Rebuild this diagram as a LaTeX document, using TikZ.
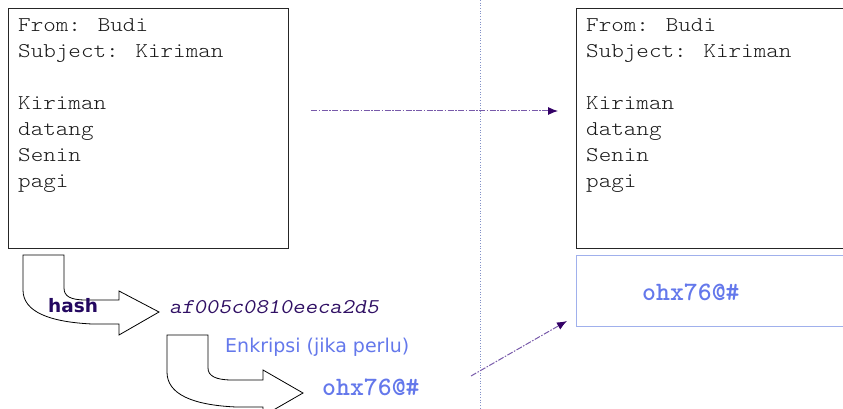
\documentclass[tikz,border=0pt]{standalone}
\usepackage{fontspec}
\setmainfont{DejaVu Sans}
\newfontfamily\letterfont{Latin Modern Mono Light}[FakeStretch=1.14]
\newfontfamily\digestfont{Latin Modern Mono}[FakeStretch=1.14, FakeSlant=0.2]
\newfontfamily\cipherfont{Latin Modern Mono Light}
\newfontfamily\labelfont{DejaVu Sans}
\usetikzlibrary{arrows.meta}

\definecolor{inkpurple}{RGB}{51,0,102}
\definecolor{hashink}{RGB}{36,8,96}
\definecolor{digestink}{RGB}{48,16,100}
\definecolor{cipherblue}{RGB}{100,120,235}
\definecolor{sepblue}{RGB}{130,145,200}
\definecolor{flowpurple}{RGB}{120,90,170}
\definecolor{sigframe}{RGB}{160,176,236}

\tikzset{
  msgbox/.style={draw=black!85, line width=0.9pt, anchor=north west, inner sep=0pt},
  sigframebox/.style={draw=sigframe, line width=1pt, anchor=north west, inner sep=0pt},
  msgtext/.style={font=\letterfont\fontsize{21}{26}\selectfont, align=left,
                  anchor=base west, inner sep=0pt, text=black!90},
  digest/.style={font=\digestfont\fontsize{21}{26}\selectfont,
                 text=digestink, anchor=base west, inner sep=0pt},
  cipher/.style={font=\cipherfont\bfseries\fontsize{26.5}{30}\selectfont,
                 text=cipherblue, anchor=base west, inner sep=0pt},
  hashlabel/.style={font=\labelfont\bfseries\fontsize{18.5}{22}\selectfont,
                    text=hashink, anchor=base west, inner sep=0pt},
  enclabel/.style={font=\labelfont\fontsize{19}{22}\selectfont,
                   text=cipherblue, anchor=base west, inner sep=0pt},
  bentarrow/.style={draw=black, line width=0.8pt, fill=white, line join=miter},
  flow/.style={draw=flowpurple, line width=1pt,
               dash pattern=on 6pt off 1.5pt on 1.5pt off 1.5pt,
               -{Latex[length=10pt,width=8pt,color=inkpurple]}},
  separator/.style={draw=sepblue, line width=0.7pt, dotted},
}

\begin{document}
\begin{tikzpicture}[x=1pt, y=-1pt]
  \useasboundingbox (0,0) rectangle (843,409);
  \clip (0,0) rectangle (843,409);

  % sender / receiver divider
  \coordinate (septop) at (480,0);
  \coordinate (sepbot) at (480,409);
  \draw[separator] (septop) -- (sepbot);

  % message as written by the sender (text anchored at the last line)
  \node[msgbox, minimum width=280pt, minimum height=240pt] (sendbox) at (8,8) {};
  \node[msgtext] (sendtext) at (18,187)
    {From: Budi\\Subject: Kiriman\\[26pt]Kiriman\\datang\\Senin\\pagi};

  % message as received
  \node[msgbox, minimum width=290pt, minimum height=240pt] (recvbox) at (576,8) {};
  \node[msgtext] (recvtext) at (586,187)
    {From: Budi\\Subject: Kiriman\\[26pt]Kiriman\\datang\\Senin\\pagi};

  % attached signature on the receiving side
  \node[sigframebox, minimum width=290pt, minimum height=71pt] (sigbox) at (576,255) {};
  \node[cipher] (sigtext) at (642,300) {ohx76@\#};

  % bent arrow: message -> hash
  \draw[bentarrow]
    (23,255) -- (64,255) -- (64,288)
    .. controls (64,296) and (70,300) .. (86,300)
    -- (119,300) -- (119,291) -- (159,312) -- (119,335) -- (119,324)
    -- (92,324)
    .. controls (50,322) and (23,312) .. (23,290) -- cycle;

  % bent arrow: hash -> encrypted hash
  \draw[bentarrow]
    (167,335) -- (208,335) -- (208,368)
    .. controls (208,376) and (216,380) .. (232,380)
    -- (263,380) -- (263,370) -- (303,393) -- (263,416) -- (263,407)
    -- (236,407)
    .. controls (192,405) and (167,394) .. (167,372) -- cycle;

  \node[hashlabel] (hashlbl) at (48,312) {hash};
  \node[digest] (digest) at (169,313) {af005c0810eeca2d5};
  \node[enclabel] (enclbl) at (225,352) {Enkripsi (jika perlu)};
  \node[cipher] (cipher) at (322,395) {ohx76@\#};

  % transfer of the message
  \coordinate (flowstart) at (311,111);
  \coordinate (flowend) at (558,111);
  \draw[flow] (flowstart) -- (flowend);

  % transfer of the signature
  \coordinate (sigstart) at (471,376);
  \coordinate (sigend) at (567,321);
  \draw[flow] (sigstart) -- (sigend);
\end{tikzpicture}
\end{document}
